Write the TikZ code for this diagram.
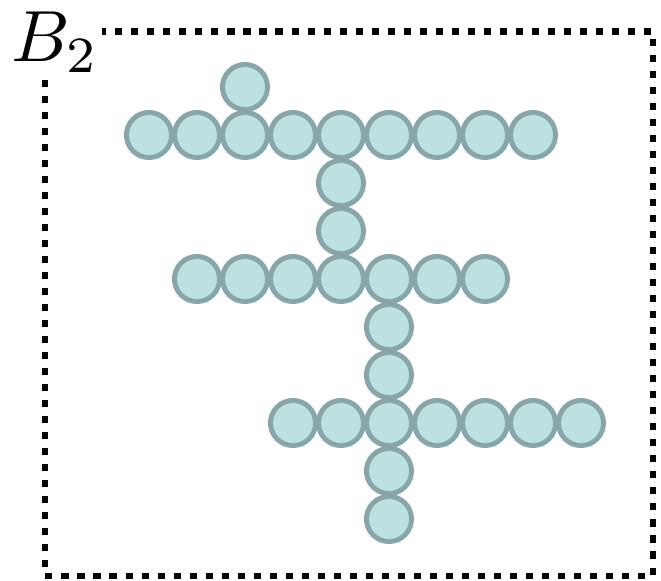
\documentclass[tikz,border=0pt]{standalone}
\definecolor{beadfill}{RGB}{189,224,227}
\definecolor{beadline}{RGB}{136,166,168}
\begin{document}
\begin{tikzpicture}[x=1cm,y=-1cm,
    bead/.style={circle,draw=beadline,fill=beadfill,line width=2.9pt,minimum size=0.94cm,inner sep=0pt},
    frame/.style={line width=3.6pt,dash pattern=on 4.2pt off 5.3pt}]
    \useasboundingbox (0,0) rectangle (13.771,12.104);
    \coordinate (fnw) at (0.9375,0.656);
    \coordinate (fse) at (13.604,12.0);
    \draw[frame] (fnw) rectangle (fse);
    \node[fill=white,inner sep=0.3pt,scale=4.3,anchor=base west] (lbl) at (0.17,1.29) {$B_2$};
    % top branch
    \node[bead] (b-0-2) at (5.104,1.8125) {};
    \foreach \c in {0,...,8}
        \node[bead] (b-1-\c) at (3.104+\c,2.8125) {};
    \foreach \r in {2,3}
        \node[bead] (b-\r-4) at (7.104,1.8125+\r) {};
    % middle branch
    \foreach \c in {1,...,7}
        \node[bead] (b-4-\c) at (3.104+\c,5.8125) {};
    \foreach \r in {5,6,8,9}
        \node[bead] (b-\r-5) at (8.104,1.8125+\r) {};
    % bottom branch
    \foreach \c in {3,...,9}
        \node[bead] (b-7-\c) at (3.104+\c,8.8125) {};
\end{tikzpicture}
\end{document}
